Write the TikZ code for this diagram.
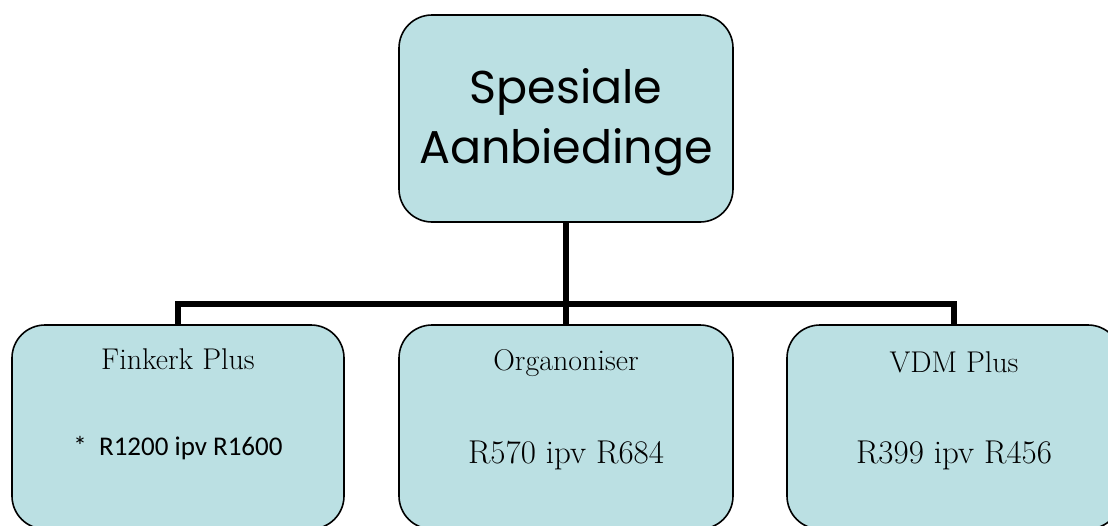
\documentclass[tikz,border=0pt]{standalone}
\usepackage{fontspec}
\newfontfamily\titlefont{Poppins}
\newfontfamily\pricefont{Carlito}
\newfontfamily\papfont{Latin Modern Roman}
\definecolor{boxfill}{HTML}{BBE0E3}
\begin{document}
\begin{tikzpicture}[x=1pt,y=-1pt,
  box/.style={draw=black, line width=1.6pt, fill=boxfill, rounded corners=33pt, inner sep=0pt},
  conn/.style={draw=black, line width=6pt},
  ttl/.style={anchor=base, inner sep=0pt, font=\titlefont\fontsize{46}{50}\selectfont},
  head/.style={anchor=base, inner sep=0pt, font=\papfont\fontsize{30}{34}\selectfont},
  pap/.style={anchor=base, inner sep=0pt, font=\papfont\fontsize{33}{36}\selectfont},
  cal/.style={anchor=base, inner sep=0pt, font=\pricefont\fontsize{27}{30}\selectfont}]
\useasboundingbox (0,0) rectangle (1108,525);
\clip (0,0) rectangle (1108,525);
% boxes
\node[box, minimum width=334pt, minimum height=207pt] (top) at (566,118.5) {};
\node[box, minimum width=332pt, minimum height=204pt] (left) at (178,427) {};
\node[box, minimum width=334pt, minimum height=204pt] (mid) at (566,427) {};
\node[box, minimum width=334pt, minimum height=204pt] (right) at (954,427) {};
% connectors
\coordinate (hl) at (178,304);
\coordinate (hm) at (566,304);
\coordinate (hr) at (954,304);
\draw[conn] (top.south) -- (hm);
\draw[conn] (left.north) -- (hl) -- (hr) -- (right.north);
\draw[conn] (hm) -- (mid.north);
% texts
\node[ttl] (t1) at (566,103) {Spesiale};
\node[ttl] (t2) at (566,163) {Aanbiedinge};
\node[head] (h1) at (178,369) {Finkerk Plus};
\node[cal] (p1) at (178,455) {*\ \ R1200 ipv R1600};
\node[head] (h2) at (566,370) {Organoniser};
\node[pap] (p2) at (566,463) {R570 ipv R684};
\node[head] (h3) at (954,372) {VDM Plus};
\node[pap] (p3) at (954,463) {R399 ipv R456};
\end{tikzpicture}
\end{document}
